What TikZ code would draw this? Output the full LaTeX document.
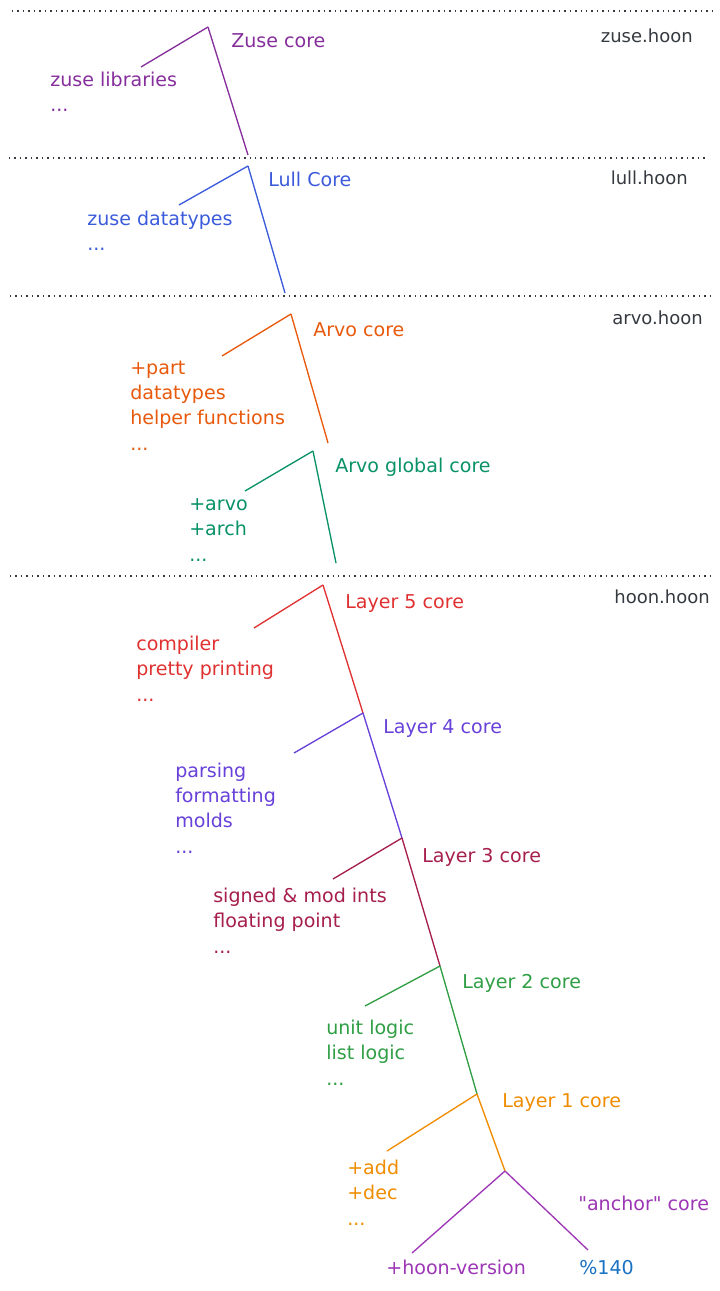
\documentclass[tikz,border=0pt]{standalone}
\usepackage{fontspec}
\setmainfont{DejaVu Sans}[Ligatures=TeXOff]
\definecolor{zusec}{HTML}{862E9C}
\definecolor{lullc}{HTML}{3B5BDB}
\definecolor{arvoc}{HTML}{E8590C}
\definecolor{globc}{HTML}{099268}
\definecolor{lfivec}{HTML}{E03131}
\definecolor{lfourc}{HTML}{6741D9}
\definecolor{lthreec}{HTML}{A61E4D}
\definecolor{ltwoc}{HTML}{2F9E44}
\definecolor{lonec}{HTML}{F08C00}
\definecolor{anchc}{HTML}{9C36B5}
\definecolor{verc}{HTML}{1971C2}
\definecolor{filec}{HTML}{343A40}
\begin{document}
\begin{tikzpicture}[x=0.75pt, y=-0.75pt]
		\tikzset{lbl/.style={anchor=base west, inner sep=0pt, font=\fontsize{14.3}{19}\selectfont}};
		\tikzset{lst/.style={anchor=base west, inner sep=0pt, align=left, font=\fontsize{14.3}{19}\selectfont}};
		\tikzset{fname/.style={anchor=base east, inner sep=0pt, text=filec, font=\fontsize{13.5}{19}\selectfont}};
		\tikzset{br/.style={line width=1pt}};
		\tikzset{sep/.style={draw=filec, line width=1.1pt, dash pattern=on 1.1pt off 3pt}};
		\useasboundingbox (0,0) rectangle (719,1291);

		\draw[sep] (12,11) -- (712,11);
		\draw[sep] (9,158) -- (705,158);
		\draw[sep] (10,296) -- (712,296);
		\draw[sep] (10,576) -- (712,576);

		\node[fname] (zfile) at (693,43) {zuse.hoon};
		\node[fname] (lfile) at (688,185) {lull.hoon};
		\node[fname] (afile) at (703,324) {arvo.hoon};
		\node[fname] (hfile) at (710,603) {hoon.hoon};

		\coordinate (z) at (208,27);
		\coordinate (zl) at (141,67);
		\coordinate (zb) at (248,155);
		\coordinate (l) at (248,166);
		\coordinate (ll) at (179,205);
		\coordinate (lb) at (285,293);
		\coordinate (a) at (291,314);
		\coordinate (al) at (222,356);
		\coordinate (ab) at (328,443);
		\coordinate (g) at (313,451);
		\coordinate (gl) at (245,491);
		\coordinate (gb) at (336,563);
		\coordinate (f5) at (323,585);
		\coordinate (f5l) at (254,628);
		\coordinate (f4) at (363,713);
		\coordinate (f4l) at (294,753);
		\coordinate (f3) at (402,838);
		\coordinate (f3l) at (333,879);
		\coordinate (f2) at (440,966);
		\coordinate (f2l) at (365,1006);
		\coordinate (f1) at (477,1094);
		\coordinate (f1l) at (387,1151);
		\coordinate (k) at (505,1171);
		\coordinate (kl) at (412,1253);
		\coordinate (kr) at (588,1250);

		\node[lbl, text=zusec] (zcore) at (231,48) {Zuse core};
		\node[lst, text=zusec] (zlib) at (50,112) {zuse libraries\\...};
		\node[lbl, text=lullc] (lcore) at (268,187) {Lull Core};
		\node[lst, text=lullc] (ltypes) at (87,251) {zuse datatypes\\...};
		\node[lbl, text=arvoc] (acore) at (313,336) {Arvo core};
		\node[lst, text=arvoc] (alib) at (130,450) {+part\\datatypes\\helper functions\\...};
		\node[lbl, text=globc] (gcore) at (335,472) {Arvo global core};
		\node[lst, text=globc] (glib) at (189,561) {+arvo\\+arch\\...};
		\node[lbl, text=lfivec] (c5) at (345,608) {Layer 5 core};
		\node[lst, text=lfivec] (lib5) at (136,701) {compiler\\pretty printing\\...};
		\node[lbl, text=lfourc] (c4) at (383,733) {Layer 4 core};
		\node[lst, text=lfourc] (lib4) at (175,853) {parsing\\formatting\\molds\\...};
		\node[lbl, text=lthreec] (c3) at (422,862) {Layer 3 core};
		\node[lst, text=lthreec] (lib3) at (213,953) {signed \& mod ints\\floating point\\...};
		\node[lbl, text=ltwoc] (c2) at (462,988) {Layer 2 core};
		\node[lst, text=ltwoc] (lib2) at (326,1085) {unit logic\\list logic\\...};
		\node[lbl, text=lonec] (c1) at (502,1107) {Layer 1 core};
		\node[lst, text=lonec] (lib1) at (347,1225) {+add\\+dec\\...};
		\node[lbl, text=anchc] (anch) at (578,1210) {"anchor" core};
		\node[lbl, text=anchc] (hver) at (386,1274) {+hoon-version};
		\node[lbl, text=verc] (ver) at (579,1274) {\%140};

		\draw[br, zusec] (z) -- (zl);
		\draw[br, zusec] (z) -- (zb);
		\draw[br, lullc] (l) -- (ll);
		\draw[br, lullc] (l) -- (lb);
		\draw[br, arvoc] (a) -- (al);
		\draw[br, arvoc] (a) -- (ab);
		\draw[br, globc] (g) -- (gl);
		\draw[br, globc] (g) -- (gb);
		\draw[br, lfivec] (f5) -- (f5l);
		\draw[br, lfivec] (f5) -- (f4);
		\draw[br, lfourc] (f4) -- (f4l);
		\draw[br, lfourc] (f4) -- (f3);
		\draw[br, lthreec] (f3) -- (f3l);
		\draw[br, lthreec] (f3) -- (f2);
		\draw[br, ltwoc] (f2) -- (f2l);
		\draw[br, ltwoc] (f2) -- (f1);
		\draw[br, lonec] (f1) -- (f1l);
		\draw[br, lonec] (f1) -- (k);
		\draw[br, anchc] (k) -- (kl);
		\draw[br, anchc] (k) -- (kr);
	\end{tikzpicture}
\end{document}
